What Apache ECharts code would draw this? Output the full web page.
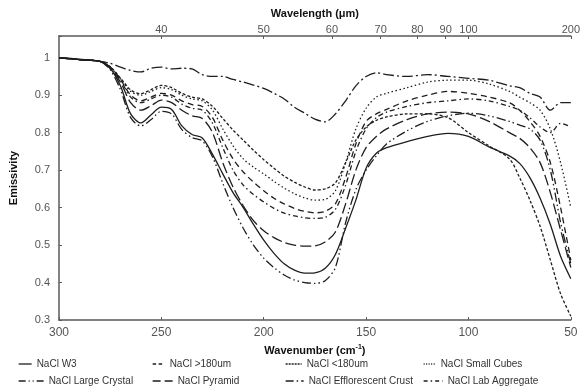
<!DOCTYPE html>
<html>
<head>
<meta charset="utf-8">
<script src="https://cdn.jsdelivr.net/npm/echarts@6/dist/echarts.min.js"></script>
<style>
  html, body { margin: 0; padding: 0; background: #fff; }
  #chart { width: 583px; height: 390px; }
</style>
</head>
<body>
<div id="chart"></div>
<script>
// wavenumber grid (cm-1), shared by every sample
const wavenumber = [300, 290, 280, 275, 270, 265, 260, 255, 250, 245, 240, 235, 230, 225, 220, 215, 210, 205, 200, 195, 190, 185, 180, 175, 170, 165, 160, 155, 150, 145, 140, 130, 120, 110, 100, 90, 80, 75, 70, 65, 60, 55, 50];

const w3 = [1.0, 0.996, 0.99, 0.972, 0.925, 0.85, 0.826, 0.848, 0.868, 0.862, 0.818, 0.795, 0.786, 0.742, 0.690, 0.640, 0.600, 0.555, 0.513, 0.478, 0.450, 0.433, 0.425, 0.426, 0.438, 0.475, 0.545, 0.620, 0.705, 0.745, 0.760, 0.776, 0.790, 0.798, 0.790, 0.762, 0.738, 0.718, 0.680, 0.625, 0.555, 0.470, 0.410];
const over180 = [1.0, 0.995, 0.99, 0.975, 0.942, 0.90, 0.885, 0.895, 0.905, 0.9, 0.885, 0.875, 0.87, 0.84, 0.78, 0.73, 0.695, 0.668, 0.645, 0.625, 0.61, 0.598, 0.59, 0.586, 0.59, 0.61, 0.68, 0.77, 0.83, 0.85, 0.862, 0.885, 0.90, 0.91, 0.905, 0.895, 0.88, 0.86, 0.83, 0.79, 0.72, 0.60, 0.46];
const under180 = [1.0, 0.995, 0.99, 0.976, 0.946, 0.914, 0.904, 0.915, 0.926, 0.92, 0.905, 0.895, 0.89, 0.87, 0.838, 0.807, 0.78, 0.753, 0.728, 0.705, 0.684, 0.668, 0.655, 0.647, 0.65, 0.666, 0.72, 0.78, 0.815, 0.833, 0.842, 0.85, 0.85, 0.84, 0.80, 0.765, 0.73, 0.68, 0.62, 0.55, 0.46, 0.37, 0.31];
const smallCubes = [1.0, 0.995, 0.99, 0.976, 0.944, 0.91, 0.90, 0.91, 0.92, 0.915, 0.90, 0.89, 0.885, 0.86, 0.81, 0.765, 0.73, 0.708, 0.69, 0.67, 0.652, 0.637, 0.626, 0.62, 0.622, 0.645, 0.72, 0.81, 0.865, 0.895, 0.905, 0.92, 0.935, 0.94, 0.94, 0.93, 0.91, 0.895, 0.88, 0.86, 0.81, 0.72, 0.60];
const largeCrystal = [1.0, 0.995, 0.99, 0.968, 0.915, 0.84, 0.818, 0.835, 0.857, 0.85, 0.808, 0.787, 0.778, 0.735, 0.665, 0.60, 0.545, 0.50, 0.465, 0.44, 0.42, 0.407, 0.400, 0.398, 0.405, 0.44, 0.56, 0.648, 0.70, 0.738, 0.77, 0.805, 0.83, 0.845, 0.852, 0.845, 0.83, 0.82, 0.81, 0.78, 0.70, 0.56, 0.45];
const pyramid = [1.0, 0.995, 0.99, 0.972, 0.935, 0.88, 0.86, 0.872, 0.887, 0.88, 0.86, 0.845, 0.838, 0.80, 0.72, 0.655, 0.605, 0.565, 0.538, 0.52, 0.507, 0.50, 0.497, 0.498, 0.508, 0.535, 0.61, 0.70, 0.76, 0.79, 0.81, 0.835, 0.85, 0.855, 0.85, 0.83, 0.80, 0.785, 0.76, 0.72, 0.64, 0.54, 0.44];
const effCrust = [1.0, 0.995, 0.99, 0.985, 0.975, 0.966, 0.962, 0.972, 0.975, 0.97, 0.972, 0.97, 0.955, 0.95, 0.95, 0.942, 0.935, 0.927, 0.918, 0.905, 0.89, 0.868, 0.852, 0.836, 0.829, 0.85, 0.885, 0.925, 0.95, 0.96, 0.955, 0.95, 0.955, 0.95, 0.945, 0.94, 0.925, 0.92, 0.905, 0.895, 0.86, 0.88, 0.88];
const labAggregate = [1.0, 0.995, 0.99, 0.975, 0.94, 0.895, 0.88, 0.89, 0.90, 0.895, 0.876, 0.865, 0.86, 0.825, 0.76, 0.70, 0.66, 0.635, 0.615, 0.598, 0.585, 0.578, 0.573, 0.571, 0.574, 0.595, 0.66, 0.75, 0.81, 0.84, 0.855, 0.87, 0.88, 0.885, 0.89, 0.885, 0.87, 0.86, 0.84, 0.815, 0.80, 0.825, 0.815];

// top axis: wavelength labels (um), placed at 10000 / wavelength
const wavelengthTicks = [40, 50, 60, 70, 80, 90, 100, 200];

var myChart = echarts.init(document.getElementById('chart'));

function pairs(vals) {
  return wavenumber.map((x, i) => [x, vals[i]]);
}

// dash = pattern on the plot, key = pattern in the legend swatch
const samples = [
  { name: 'NaCl W3', data: w3, dash: 'solid', key: 'solid', left: 13, row: 0, w: 13 },
  { name: 'NaCl >180um', data: over180, dash: [6, 4], key: [3.5, 2.5], left: 147, row: 0, w: 12 },
  { name: 'NaCl <180um', data: under180, dash: [3, 2], key: [2, 1], left: 280, row: 0, w: 16 },
  { name: 'NaCl Small Cubes', data: smallCubes, dash: [1.5, 2.5], key: [1, 1.5], left: 418, row: 0, w: 12 },
  { name: 'NaCl Large Crystal', data: largeCrystal, dash: [9, 3, 1.5, 3, 1.5, 3], key: [7, 3, 1, 3, 1, 3], left: 13, row: 1, w: 25 },
  { name: 'NaCl Pyramid', data: pyramid, dash: [11, 4], key: [8, 4], left: 147, row: 1, w: 20 },
  { name: 'NaCl Efflorescent Crust', data: effCrust, dash: [11, 3, 2, 3], key: [8, 3, 1.5, 3], left: 280, row: 1, w: 18 },
  { name: 'NaCl Lab Aggregate', data: labAggregate, dash: [5, 3, 1.5, 3], key: [4, 3, 1.5, 3], left: 418, row: 1, w: 19 }
];

const axisCol = '#5a5a5a';
const font = 'Liberation Sans, Arial, sans-serif';

const option = {
  backgroundColor: '#fff',
  animation: false,
  grid: { left: 57, right: 8, top: 36, bottom: 70 },
  legend: samples.map(s => ({
    left: s.left,
    top: 354 + s.row * 17,
    itemWidth: s.w,
    itemHeight: 10,
    itemStyle: { opacity: 0 },
    lineStyle: { type: s.key, width: 1.3 },
    textStyle: { fontSize: 10, color: '#333', fontFamily: font },
    data: [s.name]
  })),
  xAxis: [
    {
      type: 'value',
      position: 'bottom',
      min: 50,
      max: 300,
      interval: 50,
      inverse: true,
      name: '{b|Wavenumber (cm}{s|-1}{b|)}',
      nameLocation: 'middle',
      nameGap: 24,
      nameTextStyle: {
        rich: {
          b: { fontSize: 11, fontWeight: 'bold', color: '#111', fontFamily: font, lineHeight: 14 },
          s: { fontSize: 7, fontWeight: 'bold', color: '#111', fontFamily: font, lineHeight: 8, verticalAlign: 'top' }
        }
      },
      axisLine: { lineStyle: { color: axisCol, width: 1.5 } },
      axisTick: { inside: true, length: 3, lineStyle: { color: axisCol } },
      axisLabel: { fontSize: 12, color: '#555', fontFamily: font, margin: 7 },
      splitLine: { show: false }
    },
    {
      type: 'value',
      position: 'top',
      min: 50,
      max: 300,
      inverse: true,
      name: 'Wavelength (\u03bcm)',
      nameLocation: 'middle',
      nameGap: 14,
      nameTextStyle: { fontSize: 11, fontWeight: 'bold', color: '#111', fontFamily: font },
      axisLine: { lineStyle: { color: axisCol, width: 1.5 } },
      axisTick: {
        inside: true, length: 3, lineStyle: { color: axisCol },
        customValues: wavelengthTicks.map(l => 10000 / l)
      },
      axisLabel: {
        fontSize: 11, color: '#555', fontFamily: font, margin: 1,
        customValues: wavelengthTicks.map(l => 10000 / l),
        formatter: v => String(Math.round(10000 / v))
      },
      splitLine: { show: false }
    }
  ],
  yAxis: {
    type: 'value',
    min: 0.3,
    max: 1.058,
    interval: 0.1,
    name: 'Emissivity',
    nameLocation: 'middle',
    nameGap: 40,
    nameTextStyle: { fontSize: 11, fontWeight: 'bold', color: '#111', fontFamily: font },
    axisLine: { show: true, lineStyle: { color: axisCol, width: 1.5 } },
    axisTick: { show: true, inside: true, length: 3, lineStyle: { color: axisCol } },
    axisLabel: {
      fontSize: 11, color: '#555', fontFamily: font, margin: 9,
      formatter: v => (v > 1.001 ? '' : String(+v.toFixed(1)))
    },
    splitLine: { show: false }
  },
  series: samples.map(s => ({
    name: s.name,
    type: 'line',
    xAxisIndex: 0,
    data: pairs(s.data),
    smooth: 0.3,
    symbol: 'none',
    color: '#1e1e1e',
    lineStyle: { color: '#1e1e1e', width: 1.3, type: s.dash }
  }))
};

myChart.setOption(option);
</script>
</body>
</html>
